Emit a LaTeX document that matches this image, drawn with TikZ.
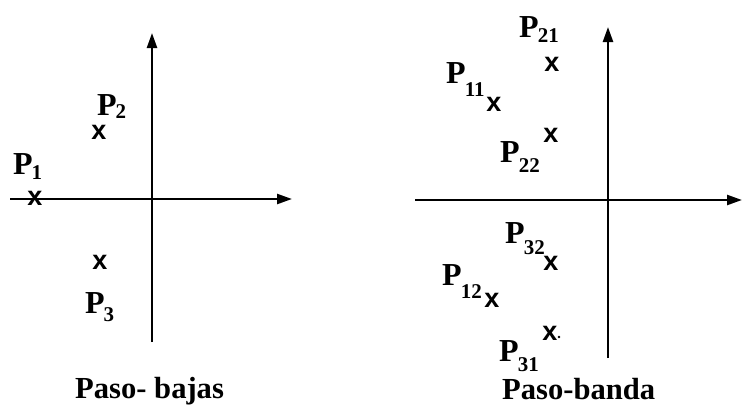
\documentclass[tikz,border=0pt]{standalone}
\usepackage{fontspec}
\setmainfont{Liberation Serif}
\newfontfamily\xfont{Liberation Sans}
\usetikzlibrary{arrows.meta}
\newcommand{\mklab}[3]{{\bfseries\fontsize{32}{32}\selectfont P}\kern#3pt\raisebox{-#2pt}{\fontsize{21}{21}\selectfont\bfseries #1}}
\tikzset{
  axis/.style={line width=2.4pt, -{Triangle[length=15pt,width=10pt]}},
  pole/.style={inner sep=0pt, font=\xfont\bfseries\fontsize{27}{27}\selectfont},
  plab/.style={inner sep=0pt, anchor=base west},
  capt/.style={inner sep=0pt, anchor=base west, font=\bfseries\fontsize{30.6}{30.6}\selectfont}
}
\begin{document}
\begin{tikzpicture}[x=1pt,y=-1pt]
\useasboundingbox (0,0) rectangle (742,407);
% left axes
\coordinate (lh0) at (10,199);
\coordinate (lh1) at (292,199);
\coordinate (lv0) at (152,342);
\coordinate (lv1) at (152,33);
\draw[axis] (lh0) -- (lh1);
\draw[axis] (lv0) -- (lv1);
% right axes
\coordinate (rh0) at (415,200);
\coordinate (rh1) at (742,200);
\coordinate (rv0) at (608,358);
\coordinate (rv1) at (608,27);
\draw[axis] (rh0) -- (rh1);
\draw[axis] (rv0) -- (rv1);
% left poles
\node[pole] (x1) at (35,198) {x};
\node[pole] (x2) at (99,132) {x};
\node[pole] (x3) at (100,262) {x};
\node[plab] (p1) at (13,174) {\mklab{1}{5}{-1}};
\node[plab] (p2) at (97,115) {\mklab{2}{3}{-1}};
\node[plab] (p3) at (85,313) {\mklab{3}{8}{-1}};
% right poles
\node[pole] (x21) at (552,64) {x};
\node[pole] (x11) at (494,104) {x};
\node[pole] (x22) at (551,135) {x};
\node[pole] (x32) at (551,263) {x};
\node[pole] (x12) at (492,300) {x};
\node[pole] (x31) at (550,333) {x};
\fill (559,337) circle (1.3pt);
\node[plab] (p21) at (519,37) {\mklab{21}{5}{-1}};
\node[plab] (p11) at (446,83) {\mklab{11}{13}{-1}};
\node[plab] (p22) at (500,162) {\mklab{22}{10}{-1}};
\node[plab] (p32) at (505,243) {\mklab{32}{11}{-1}};
\node[plab] (p12) at (442,285) {\mklab{12}{13}{-1}};
\node[plab] (p31) at (499,361) {\mklab{31}{10}{-1}};
% captions
\node[capt] (c1) at (75,398) {Paso- bajas};
\node[capt] (c2) at (502,399) {Paso-banda};
\end{tikzpicture}
\end{document}
